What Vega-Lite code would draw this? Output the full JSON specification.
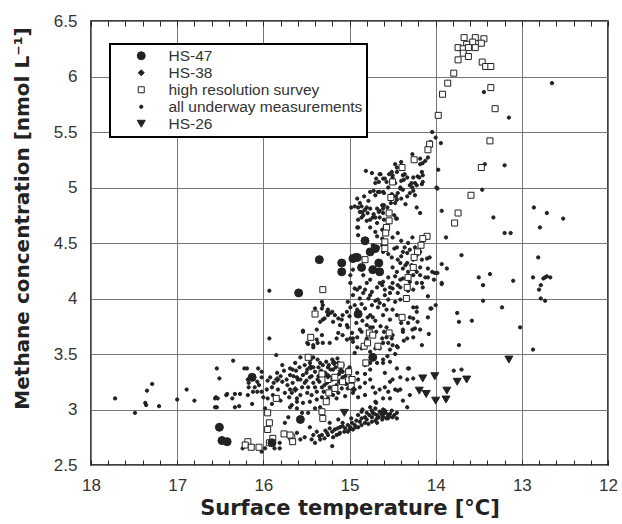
{
"$schema": "https://vega.github.io/schema/vega-lite/v6.json",
"width": 517, "height": 444,
"autosize": "none",
"padding": {"left": 91, "top": 21, "right": 14, "bottom": 59},
"config": {
  "view": {"stroke": "#000", "strokeWidth": 1.5},
  "axis": {"labelFont": "Liberation Sans", "labelFontSize": 17, "labelColor": "#333", "titleFont": "DejaVu Sans", "titleFontSize": 20, "titleFontWeight": "bold", "titleColor": "#222", "gridColor": "#777", "gridWidth": 1, "gridOpacity": 1, "domain": false},
  "legend": {"orient": "none", "legendX": 19, "legendY": 23, "strokeColor": "#000", "strokeWidth": 2, "fillColor": "#fff", "padding": 4, "labelFont": "Liberation Sans", "labelFontSize": 15.5, "labelColor": "#333", "labelLimit": 400, "symbolOffset": 19.5, "labelOffset": 19.5, "rowPadding": 0, "cornerRadius": 0, "symbolStrokeWidth": 1}
},
"data": {"values": [
{"t":17.72,"c":3.10,"s":"all underway measurements"},{"t":17.49,"c":2.97,"s":"all underway measurements"},{"t":17.37,"c":3.06,"s":"all underway measurements"},{"t":17.36,"c":3.04,"s":"all underway measurements"},{"t":17.35,"c":3.17,"s":"all underway measurements"},{"t":17.29,"c":3.23,"s":"all underway measurements"},{"t":17.21,"c":3.03,"s":"all underway measurements"},{"t":17.00,"c":3.09,"s":"all underway measurements"},{"t":16.89,"c":3.18,"s":"all underway measurements"},{"t":16.80,"c":3.08,"s":"all underway measurements"},{"t":16.56,"c":3.10,"s":"all underway measurements"},{"t":16.53,"c":3.10,"s":"all underway measurements"},{"t":16.56,"c":3.02,"s":"all underway measurements"},{"t":16.54,"c":3.37,"s":"all underway measurements"},{"t":16.51,"c":3.28,"s":"all underway measurements"},{"t":16.42,"c":3.14,"s":"all underway measurements"},{"t":16.36,"c":3.10,"s":"all underway measurements"},{"t":16.35,"c":3.44,"s":"all underway measurements"},{"t":16.33,"c":3.14,"s":"all underway measurements"},{"t":16.33,"c":3.02,"s":"all underway measurements"},{"t":16.28,"c":3.03,"s":"all underway measurements"},{"t":16.22,"c":3.37,"s":"all underway measurements"},{"t":16.19,"c":3.37,"s":"all underway measurements"},{"t":16.17,"c":3.24,"s":"all underway measurements"},{"t":16.13,"c":3.05,"s":"all underway measurements"},{"t":15.93,"c":3.64,"s":"all underway measurements"},
{"t":15.93,"c":4.07,"s":"all underway measurements"},{"t":15.85,"c":3.49,"s":"all underway measurements"},{"t":16.06,"c":3.37,"s":"all underway measurements"},{"t":16.02,"c":3.34,"s":"all underway measurements"},{"t":15.78,"c":3.40,"s":"all underway measurements"},{"t":15.69,"c":3.37,"s":"all underway measurements"},{"t":15.62,"c":3.35,"s":"all underway measurements"},{"t":15.84,"c":3.33,"s":"all underway measurements"},{"t":15.92,"c":3.29,"s":"all underway measurements"},{"t":15.78,"c":3.25,"s":"all underway measurements"},{"t":15.73,"c":3.27,"s":"all underway measurements"},{"t":15.66,"c":3.24,"s":"all underway measurements"},{"t":15.60,"c":3.27,"s":"all underway measurements"},{"t":15.90,"c":3.20,"s":"all underway measurements"},{"t":15.96,"c":3.18,"s":"all underway measurements"},{"t":16.02,"c":3.16,"s":"all underway measurements"},{"t":16.07,"c":3.16,"s":"all underway measurements"},{"t":16.00,"c":3.11,"s":"all underway measurements"},{"t":15.95,"c":3.10,"s":"all underway measurements"},{"t":15.89,"c":3.13,"s":"all underway measurements"},{"t":15.83,"c":3.18,"s":"all underway measurements"},{"t":15.75,"c":3.15,"s":"all underway measurements"},{"t":15.69,"c":3.18,"s":"all underway measurements"},{"t":15.69,"c":3.02,"s":"all underway measurements"},{"t":15.61,"c":3.10,"s":"all underway measurements"},{"t":16.18,"c":3.27,"s":"all underway measurements"},{"t":16.17,"c":3.20,"s":"all underway measurements"},{"t":16.12,"c":3.16,"s":"all underway measurements"},{"t":16.18,"c":3.13,"s":"all underway measurements"},{"t":16.02,"c":3.29,"s":"all underway measurements"},{"t":16.07,"c":3.25,"s":"all underway measurements"},{"t":16.10,"c":3.20,"s":"all underway measurements"},{"t":16.27,"c":3.14,"s":"all underway measurements"},{"t":16.43,"c":3.13,"s":"all underway measurements"},{"t":16.55,"c":3.11,"s":"all underway measurements"},{"t":16.54,"c":3.02,"s":"all underway measurements"},{"t":15.98,"c":3.01,"s":"all underway measurements"},{"t":15.71,"c":2.93,"s":"all underway measurements"},{"t":15.75,"c":2.88,"s":"all underway measurements"},{"t":15.81,"c":2.70,"s":"all underway measurements"},{"t":15.81,"c":2.65,"s":"all underway measurements"},{"t":15.87,"c":2.65,"s":"all underway measurements"},{"t":16.24,"c":2.65,"s":"all underway measurements"},{"t":15.98,"c":2.65,"s":"all underway measurements"},{"t":16.02,"c":2.62,"s":"all underway measurements"},
{"t":15.54,"c":3.71,"s":"all underway measurements"},{"t":15.31,"c":3.94,"s":"all underway measurements"},{"t":15.25,"c":3.90,"s":"all underway measurements"},{"t":15.17,"c":3.85,"s":"all underway measurements"},{"t":15.09,"c":3.81,"s":"all underway measurements"},{"t":15.49,"c":3.60,"s":"all underway measurements"},{"t":15.42,"c":3.56,"s":"all underway measurements"},{"t":15.38,"c":3.63,"s":"all underway measurements"},{"t":15.32,"c":3.67,"s":"all underway measurements"},{"t":15.13,"c":3.69,"s":"all underway measurements"},{"t":15.03,"c":3.76,"s":"all underway measurements"},{"t":14.96,"c":3.64,"s":"all underway measurements"},{"t":14.88,"c":3.72,"s":"all underway measurements"},{"t":14.76,"c":3.85,"s":"all underway measurements"},{"t":14.67,"c":3.92,"s":"all underway measurements"},{"t":14.61,"c":3.85,"s":"all underway measurements"},{"t":14.73,"c":3.74,"s":"all underway measurements"},{"t":14.91,"c":3.87,"s":"all underway measurements"},{"t":14.99,"c":3.92,"s":"all underway measurements"},{"t":15.32,"c":3.97,"s":"all underway measurements"},{"t":15.22,"c":3.87,"s":"all underway measurements"},{"t":15.39,"c":3.87,"s":"all underway measurements"},{"t":15.29,"c":3.82,"s":"all underway measurements"},
{"t":14.99,"c":4.14,"s":"all underway measurements"},{"t":14.94,"c":4.09,"s":"all underway measurements"},{"t":14.88,"c":4.10,"s":"all underway measurements"},{"t":14.96,"c":4.03,"s":"all underway measurements"},{"t":15.02,"c":3.97,"s":"all underway measurements"},{"t":14.88,"c":4.00,"s":"all underway measurements"},{"t":14.84,"c":4.05,"s":"all underway measurements"},{"t":14.74,"c":4.06,"s":"all underway measurements"},{"t":14.68,"c":4.10,"s":"all underway measurements"},{"t":14.62,"c":4.12,"s":"all underway measurements"},{"t":14.59,"c":4.08,"s":"all underway measurements"},{"t":14.53,"c":4.05,"s":"all underway measurements"},{"t":14.55,"c":3.99,"s":"all underway measurements"},{"t":14.57,"c":3.90,"s":"all underway measurements"},{"t":14.50,"c":4.09,"s":"all underway measurements"},{"t":14.44,"c":4.12,"s":"all underway measurements"},{"t":14.44,"c":4.05,"s":"all underway measurements"},{"t":14.41,"c":3.99,"s":"all underway measurements"},{"t":14.32,"c":4.07,"s":"all underway measurements"},{"t":14.26,"c":3.92,"s":"all underway measurements"},{"t":14.22,"c":3.88,"s":"all underway measurements"},{"t":14.30,"c":3.83,"s":"all underway measurements"},{"t":14.21,"c":3.79,"s":"all underway measurements"},{"t":14.24,"c":3.73,"s":"all underway measurements"},{"t":14.18,"c":3.72,"s":"all underway measurements"},{"t":14.27,"c":3.72,"s":"all underway measurements"},{"t":14.38,"c":3.70,"s":"all underway measurements"},{"t":14.33,"c":3.64,"s":"all underway measurements"},{"t":14.44,"c":3.56,"s":"all underway measurements"},{"t":14.50,"c":3.58,"s":"all underway measurements"},{"t":14.53,"c":3.54,"s":"all underway measurements"},{"t":14.61,"c":3.60,"s":"all underway measurements"},{"t":14.70,"c":3.55,"s":"all underway measurements"},{"t":14.76,"c":3.52,"s":"all underway measurements"},{"t":14.86,"c":3.55,"s":"all underway measurements"},{"t":14.94,"c":3.51,"s":"all underway measurements"},{"t":14.82,"c":3.40,"s":"all underway measurements"},{"t":14.76,"c":3.36,"s":"all underway measurements"},{"t":14.68,"c":3.42,"s":"all underway measurements"},{"t":14.61,"c":3.42,"s":"all underway measurements"},{"t":14.53,"c":3.43,"s":"all underway measurements"},{"t":14.45,"c":3.37,"s":"all underway measurements"},{"t":14.32,"c":3.37,"s":"all underway measurements"},{"t":14.41,"c":3.18,"s":"all underway measurements"},{"t":14.47,"c":3.18,"s":"all underway measurements"},{"t":14.53,"c":3.10,"s":"all underway measurements"},{"t":14.61,"c":3.10,"s":"all underway measurements"},{"t":14.69,"c":3.06,"s":"all underway measurements"},{"t":14.76,"c":3.02,"s":"all underway measurements"},{"t":14.82,"c":3.13,"s":"all underway measurements"},{"t":14.90,"c":3.11,"s":"all underway measurements"},{"t":14.96,"c":3.15,"s":"all underway measurements"},{"t":15.02,"c":3.19,"s":"all underway measurements"},{"t":14.33,"c":3.02,"s":"all underway measurements"},{"t":14.30,"c":3.13,"s":"all underway measurements"},{"t":14.51,"c":2.99,"s":"all underway measurements"},{"t":14.62,"c":2.97,"s":"all underway measurements"},{"t":14.68,"c":2.95,"s":"all underway measurements"},{"t":14.74,"c":2.93,"s":"all underway measurements"},{"t":14.80,"c":2.91,"s":"all underway measurements"},{"t":14.88,"c":2.89,"s":"all underway measurements"},{"t":14.94,"c":2.86,"s":"all underway measurements"},{"t":14.99,"c":2.84,"s":"all underway measurements"},{"t":15.05,"c":2.83,"s":"all underway measurements"},{"t":15.11,"c":2.84,"s":"all underway measurements"},{"t":15.17,"c":2.82,"s":"all underway measurements"},{"t":15.23,"c":2.83,"s":"all underway measurements"},{"t":15.26,"c":2.79,"s":"all underway measurements"},{"t":15.32,"c":2.77,"s":"all underway measurements"},{"t":15.38,"c":2.80,"s":"all underway measurements"},{"t":15.42,"c":2.77,"s":"all underway measurements"},{"t":15.44,"c":2.73,"s":"all underway measurements"},{"t":15.23,"c":2.88,"s":"all underway measurements"},{"t":15.13,"c":2.91,"s":"all underway measurements"},{"t":15.08,"c":2.88,"s":"all underway measurements"},{"t":14.68,"c":2.92,"s":"all underway measurements"},{"t":14.61,"c":2.93,"s":"all underway measurements"},{"t":14.55,"c":2.95,"s":"all underway measurements"},{"t":14.50,"c":2.93,"s":"all underway measurements"},{"t":14.45,"c":2.97,"s":"all underway measurements"},{"t":14.73,"c":2.97,"s":"all underway measurements"},{"t":15.20,"c":2.67,"s":"all underway measurements"},{"t":15.19,"c":2.75,"s":"all underway measurements"},{"t":15.46,"c":2.84,"s":"all underway measurements"},{"t":15.52,"c":2.75,"s":"all underway measurements"},{"t":15.57,"c":2.73,"s":"all underway measurements"},{"t":15.61,"c":2.79,"s":"all underway measurements"},
{"t":15.32,"c":3.91,"s":"all underway measurements"},{"t":15.26,"c":3.88,"s":"all underway measurements"},{"t":15.20,"c":3.88,"s":"all underway measurements"},{"t":15.25,"c":3.85,"s":"all underway measurements"},{"t":15.31,"c":3.81,"s":"all underway measurements"},{"t":15.34,"c":3.79,"s":"all underway measurements"},{"t":15.19,"c":3.79,"s":"all underway measurements"},{"t":15.13,"c":3.82,"s":"all underway measurements"},{"t":15.08,"c":3.85,"s":"all underway measurements"},{"t":15.03,"c":3.88,"s":"all underway measurements"},{"t":15.11,"c":3.76,"s":"all underway measurements"},{"t":15.02,"c":3.74,"s":"all underway measurements"},{"t":15.08,"c":3.67,"s":"all underway measurements"},{"t":14.99,"c":3.64,"s":"all underway measurements"},{"t":15.03,"c":3.63,"s":"all underway measurements"},{"t":14.96,"c":3.61,"s":"all underway measurements"},{"t":15.23,"c":3.60,"s":"all underway measurements"},{"t":15.31,"c":3.60,"s":"all underway measurements"},{"t":15.37,"c":3.60,"s":"all underway measurements"},{"t":15.42,"c":3.58,"s":"all underway measurements"},{"t":15.48,"c":3.59,"s":"all underway measurements"},{"t":15.54,"c":3.70,"s":"all underway measurements"},{"t":15.38,"c":3.72,"s":"all underway measurements"},{"t":15.15,"c":3.64,"s":"all underway measurements"},{"t":14.91,"c":3.65,"s":"all underway measurements"},{"t":14.86,"c":3.70,"s":"all underway measurements"},{"t":14.76,"c":3.74,"s":"all underway measurements"},{"t":14.69,"c":3.70,"s":"all underway measurements"},{"t":14.62,"c":3.64,"s":"all underway measurements"},{"t":14.57,"c":3.74,"s":"all underway measurements"},{"t":14.50,"c":3.67,"s":"all underway measurements"},{"t":14.38,"c":3.72,"s":"all underway measurements"},{"t":14.32,"c":3.78,"s":"all underway measurements"},{"t":14.91,"c":3.90,"s":"all underway measurements"},{"t":14.82,"c":3.91,"s":"all underway measurements"},{"t":14.74,"c":3.94,"s":"all underway measurements"},{"t":14.65,"c":3.96,"s":"all underway measurements"},{"t":14.73,"c":3.83,"s":"all underway measurements"},{"t":14.53,"c":3.81,"s":"all underway measurements"},{"t":14.79,"c":3.83,"s":"all underway measurements"},{"t":15.40,"c":3.91,"s":"all underway measurements"},
{"t":15.66,"c":3.36,"s":"all underway measurements"},{"t":15.61,"c":3.29,"s":"all underway measurements"},{"t":15.57,"c":3.27,"s":"all underway measurements"},{"t":15.54,"c":3.31,"s":"all underway measurements"},{"t":15.49,"c":3.36,"s":"all underway measurements"},{"t":15.52,"c":3.40,"s":"all underway measurements"},{"t":15.46,"c":3.42,"s":"all underway measurements"},{"t":15.42,"c":3.38,"s":"all underway measurements"},{"t":15.40,"c":3.34,"s":"all underway measurements"},{"t":15.46,"c":3.29,"s":"all underway measurements"},{"t":15.52,"c":3.24,"s":"all underway measurements"},{"t":15.55,"c":3.20,"s":"all underway measurements"},{"t":15.48,"c":3.20,"s":"all underway measurements"},{"t":15.42,"c":3.24,"s":"all underway measurements"},{"t":15.37,"c":3.27,"s":"all underway measurements"},{"t":15.32,"c":3.20,"s":"all underway measurements"},{"t":15.38,"c":3.16,"s":"all underway measurements"},{"t":15.44,"c":3.13,"s":"all underway measurements"},{"t":15.49,"c":3.15,"s":"all underway measurements"},{"t":15.57,"c":3.13,"s":"all underway measurements"},{"t":15.67,"c":3.15,"s":"all underway measurements"},{"t":15.61,"c":3.07,"s":"all underway measurements"},{"t":15.54,"c":3.06,"s":"all underway measurements"},{"t":15.46,"c":3.07,"s":"all underway measurements"},{"t":15.38,"c":3.09,"s":"all underway measurements"},{"t":15.32,"c":3.11,"s":"all underway measurements"},{"t":15.25,"c":3.10,"s":"all underway measurements"},{"t":15.19,"c":3.13,"s":"all underway measurements"},{"t":15.13,"c":3.15,"s":"all underway measurements"},{"t":15.09,"c":3.19,"s":"all underway measurements"},{"t":15.15,"c":3.22,"s":"all underway measurements"},{"t":15.23,"c":3.20,"s":"all underway measurements"},{"t":15.26,"c":3.24,"s":"all underway measurements"},{"t":15.19,"c":3.36,"s":"all underway measurements"},{"t":15.25,"c":3.38,"s":"all underway measurements"},{"t":15.31,"c":3.40,"s":"all underway measurements"},{"t":15.37,"c":3.45,"s":"all underway measurements"},{"t":15.42,"c":3.47,"s":"all underway measurements"},{"t":15.57,"c":3.47,"s":"all underway measurements"},{"t":15.63,"c":3.42,"s":"all underway measurements"},{"t":15.69,"c":3.31,"s":"all underway measurements"},{"t":15.61,"c":3.01,"s":"all underway measurements"},{"t":15.55,"c":2.97,"s":"all underway measurements"},{"t":15.48,"c":2.97,"s":"all underway measurements"},{"t":15.40,"c":3.01,"s":"all underway measurements"},{"t":15.34,"c":3.02,"s":"all underway measurements"},{"t":15.67,"c":3.04,"s":"all underway measurements"},{"t":15.08,"c":3.29,"s":"all underway measurements"},{"t":14.99,"c":3.29,"s":"all underway measurements"},{"t":15.02,"c":3.36,"s":"all underway measurements"},{"t":15.08,"c":3.40,"s":"all underway measurements"},{"t":15.13,"c":3.42,"s":"all underway measurements"},{"t":15.20,"c":3.45,"s":"all underway measurements"},{"t":14.91,"c":3.33,"s":"all underway measurements"},{"t":14.90,"c":3.27,"s":"all underway measurements"},{"t":14.88,"c":3.20,"s":"all underway measurements"},{"t":14.82,"c":3.24,"s":"all underway measurements"},{"t":14.76,"c":3.27,"s":"all underway measurements"},{"t":14.73,"c":3.20,"s":"all underway measurements"},{"t":14.70,"c":3.15,"s":"all underway measurements"},{"t":14.65,"c":3.18,"s":"all underway measurements"},{"t":14.59,"c":3.20,"s":"all underway measurements"},{"t":14.53,"c":3.25,"s":"all underway measurements"},{"t":14.41,"c":3.29,"s":"all underway measurements"},{"t":14.33,"c":3.27,"s":"all underway measurements"},{"t":14.26,"c":3.28,"s":"all underway measurements"},
{"t":14.86,"c":2.98,"s":"all underway measurements"},{"t":14.80,"c":2.97,"s":"all underway measurements"},{"t":14.70,"c":3.01,"s":"all underway measurements"},{"t":14.65,"c":2.98,"s":"all underway measurements"},{"t":14.59,"c":2.99,"s":"all underway measurements"},{"t":14.62,"c":2.91,"s":"all underway measurements"},{"t":14.68,"c":2.88,"s":"all underway measurements"},{"t":14.74,"c":2.89,"s":"all underway measurements"},{"t":14.82,"c":2.88,"s":"all underway measurements"},{"t":14.90,"c":2.84,"s":"all underway measurements"},{"t":14.96,"c":2.82,"s":"all underway measurements"},{"t":15.02,"c":2.80,"s":"all underway measurements"},{"t":15.11,"c":2.79,"s":"all underway measurements"},{"t":15.15,"c":2.77,"s":"all underway measurements"},{"t":15.29,"c":2.74,"s":"all underway measurements"},{"t":15.34,"c":2.73,"s":"all underway measurements"},{"t":15.40,"c":2.70,"s":"all underway measurements"},
{"t":15.50,"c":3.33,"s":"all underway measurements"},{"t":15.44,"c":3.30,"s":"all underway measurements"},{"t":15.36,"c":3.38,"s":"all underway measurements"},{"t":15.33,"c":3.35,"s":"all underway measurements"},{"t":15.28,"c":3.33,"s":"all underway measurements"},{"t":15.22,"c":3.36,"s":"all underway measurements"},{"t":15.16,"c":3.38,"s":"all underway measurements"},{"t":15.12,"c":3.32,"s":"all underway measurements"},{"t":15.05,"c":3.30,"s":"all underway measurements"},{"t":15.00,"c":3.38,"s":"all underway measurements"},{"t":15.35,"c":3.25,"s":"all underway measurements"},{"t":15.29,"c":3.22,"s":"all underway measurements"},{"t":15.20,"c":3.27,"s":"all underway measurements"},{"t":15.12,"c":3.25,"s":"all underway measurements"},{"t":15.04,"c":3.23,"s":"all underway measurements"},{"t":15.40,"c":3.20,"s":"all underway measurements"},{"t":15.30,"c":3.16,"s":"all underway measurements"},{"t":15.22,"c":3.14,"s":"all underway measurements"},{"t":15.15,"c":3.10,"s":"all underway measurements"},{"t":15.05,"c":3.12,"s":"all underway measurements"},{"t":15.50,"c":3.26,"s":"all underway measurements"},{"t":15.58,"c":3.38,"s":"all underway measurements"},{"t":15.27,"c":3.43,"s":"all underway measurements"},{"t":15.14,"c":3.46,"s":"all underway measurements"},{"t":15.45,"c":3.45,"s":"all underway measurements"},{"t":15.36,"c":3.30,"s":"all underway measurements"},{"t":15.24,"c":3.40,"s":"all underway measurements"},{"t":15.08,"c":3.34,"s":"all underway measurements"},{"t":14.98,"c":3.24,"s":"all underway measurements"},{"t":15.34,"c":3.42,"s":"all underway measurements"},
{"t":15.20,"c":2.80,"s":"all underway measurements"},{"t":15.14,"c":2.83,"s":"all underway measurements"},{"t":15.08,"c":2.85,"s":"all underway measurements"},{"t":15.02,"c":2.86,"s":"all underway measurements"},{"t":14.97,"c":2.88,"s":"all underway measurements"},{"t":14.92,"c":2.90,"s":"all underway measurements"},{"t":14.86,"c":2.92,"s":"all underway measurements"},{"t":14.82,"c":2.93,"s":"all underway measurements"},{"t":14.77,"c":2.95,"s":"all underway measurements"},{"t":14.71,"c":2.96,"s":"all underway measurements"},{"t":14.66,"c":2.93,"s":"all underway measurements"},{"t":14.58,"c":2.97,"s":"all underway measurements"},{"t":14.53,"c":2.96,"s":"all underway measurements"},{"t":14.48,"c":2.95,"s":"all underway measurements"},{"t":14.45,"c":2.92,"s":"all underway measurements"},{"t":14.70,"c":2.90,"s":"all underway measurements"},{"t":14.78,"c":2.87,"s":"all underway measurements"},{"t":14.86,"c":2.86,"s":"all underway measurements"},{"t":14.93,"c":2.84,"s":"all underway measurements"},{"t":15.00,"c":2.82,"s":"all underway measurements"},{"t":15.06,"c":2.80,"s":"all underway measurements"},{"t":15.12,"c":2.78,"s":"all underway measurements"},{"t":15.25,"c":2.77,"s":"all underway measurements"},{"t":15.35,"c":2.76,"s":"all underway measurements"},{"t":15.28,"c":2.81,"s":"all underway measurements"},{"t":14.63,"c":2.96,"s":"all underway measurements"},{"t":14.57,"c":2.92,"s":"all underway measurements"},{"t":14.74,"c":2.99,"s":"all underway measurements"},{"t":14.90,"c":2.95,"s":"all underway measurements"},{"t":14.98,"c":2.92,"s":"all underway measurements"},
{"t":14.85,"c":4.78,"s":"all underway measurements"},{"t":14.80,"c":4.70,"s":"all underway measurements"},{"t":14.72,"c":4.76,"s":"all underway measurements"},{"t":14.68,"c":4.68,"s":"all underway measurements"},{"t":14.56,"c":4.82,"s":"all underway measurements"},{"t":14.52,"c":4.86,"s":"all underway measurements"},{"t":14.40,"c":4.90,"s":"all underway measurements"},{"t":14.35,"c":4.85,"s":"all underway measurements"},{"t":14.30,"c":4.95,"s":"all underway measurements"},{"t":14.24,"c":4.93,"s":"all underway measurements"},{"t":14.70,"c":4.93,"s":"all underway measurements"},{"t":14.78,"c":4.88,"s":"all underway measurements"},{"t":14.83,"c":4.92,"s":"all underway measurements"},{"t":14.55,"c":5.00,"s":"all underway measurements"},{"t":14.47,"c":5.04,"s":"all underway measurements"},{"t":14.40,"c":5.06,"s":"all underway measurements"},{"t":14.62,"c":4.62,"s":"all underway measurements"},{"t":14.70,"c":4.60,"s":"all underway measurements"},{"t":14.50,"c":4.55,"s":"all underway measurements"},{"t":14.40,"c":4.52,"s":"all underway measurements"},{"t":14.32,"c":4.50,"s":"all underway measurements"},{"t":14.27,"c":4.55,"s":"all underway measurements"},{"t":14.55,"c":4.40,"s":"all underway measurements"},{"t":14.48,"c":4.45,"s":"all underway measurements"},{"t":14.40,"c":4.38,"s":"all underway measurements"},{"t":14.35,"c":4.30,"s":"all underway measurements"},{"t":14.28,"c":4.30,"s":"all underway measurements"},{"t":14.47,"c":4.20,"s":"all underway measurements"},{"t":14.38,"c":4.18,"s":"all underway measurements"},{"t":14.30,"c":4.15,"s":"all underway measurements"},
{"t":14.85,"c":3.80,"s":"all underway measurements"},{"t":14.80,"c":3.76,"s":"all underway measurements"},{"t":14.70,"c":3.80,"s":"all underway measurements"},{"t":14.64,"c":3.75,"s":"all underway measurements"},{"t":14.60,"c":3.70,"s":"all underway measurements"},{"t":14.55,"c":3.60,"s":"all underway measurements"},{"t":14.65,"c":3.55,"s":"all underway measurements"},{"t":14.80,"c":3.64,"s":"all underway measurements"},{"t":14.92,"c":3.78,"s":"all underway measurements"},{"t":15.00,"c":3.84,"s":"all underway measurements"},{"t":14.86,"c":3.95,"s":"all underway measurements"},{"t":14.78,"c":4.00,"s":"all underway measurements"},{"t":14.70,"c":3.98,"s":"all underway measurements"},{"t":14.60,"c":3.94,"s":"all underway measurements"},{"t":14.47,"c":3.97,"s":"all underway measurements"},{"t":14.45,"c":3.85,"s":"all underway measurements"},{"t":14.40,"c":3.78,"s":"all underway measurements"},{"t":14.37,"c":3.62,"s":"all underway measurements"},{"t":14.47,"c":3.50,"s":"all underway measurements"},{"t":14.56,"c":3.48,"s":"all underway measurements"},
{"t":15.88,"c":3.24,"s":"all underway measurements"},{"t":15.80,"c":3.30,"s":"all underway measurements"},{"t":15.72,"c":3.22,"s":"all underway measurements"},{"t":15.65,"c":3.30,"s":"all underway measurements"},{"t":15.95,"c":3.26,"s":"all underway measurements"},{"t":16.05,"c":3.22,"s":"all underway measurements"},{"t":15.76,"c":3.35,"s":"all underway measurements"},{"t":15.70,"c":3.11,"s":"all underway measurements"},{"t":15.80,"c":3.08,"s":"all underway measurements"},{"t":15.90,"c":3.05,"s":"all underway measurements"},
{"t":14.27,"c":5.30,"s":"all underway measurements"},{"t":14.18,"c":5.21,"s":"all underway measurements"},{"t":14.10,"c":5.34,"s":"all underway measurements"},{"t":14.09,"c":5.27,"s":"all underway measurements"},{"t":14.40,"c":5.23,"s":"all underway measurements"},{"t":14.39,"c":5.18,"s":"all underway measurements"},{"t":14.45,"c":5.14,"s":"all underway measurements"},{"t":14.51,"c":5.14,"s":"all underway measurements"},{"t":14.54,"c":5.12,"s":"all underway measurements"},{"t":14.81,"c":5.15,"s":"all underway measurements"},{"t":14.74,"c":5.13,"s":"all underway measurements"},{"t":14.64,"c":5.12,"s":"all underway measurements"},{"t":14.69,"c":5.08,"s":"all underway measurements"},{"t":14.66,"c":5.05,"s":"all underway measurements"},{"t":14.70,"c":5.04,"s":"all underway measurements"},{"t":14.61,"c":5.08,"s":"all underway measurements"},{"t":14.57,"c":5.05,"s":"all underway measurements"},{"t":14.50,"c":5.09,"s":"all underway measurements"},{"t":14.36,"c":5.12,"s":"all underway measurements"},{"t":14.33,"c":5.09,"s":"all underway measurements"},{"t":14.26,"c":5.09,"s":"all underway measurements"},{"t":14.21,"c":5.10,"s":"all underway measurements"},{"t":14.15,"c":5.11,"s":"all underway measurements"},{"t":14.15,"c":5.05,"s":"all underway measurements"},{"t":14.22,"c":5.02,"s":"all underway measurements"},{"t":14.27,"c":5.00,"s":"all underway measurements"},{"t":14.26,"c":4.97,"s":"all underway measurements"},{"t":14.41,"c":4.99,"s":"all underway measurements"},{"t":14.38,"c":4.98,"s":"all underway measurements"},{"t":14.72,"c":4.97,"s":"all underway measurements"},{"t":14.76,"c":4.96,"s":"all underway measurements"},{"t":14.67,"c":4.96,"s":"all underway measurements"},{"t":14.61,"c":4.96,"s":"all underway measurements"},{"t":14.51,"c":4.94,"s":"all underway measurements"},{"t":14.46,"c":4.92,"s":"all underway measurements"},{"t":14.45,"c":4.89,"s":"all underway measurements"},{"t":14.33,"c":4.92,"s":"all underway measurements"},{"t":14.18,"c":4.77,"s":"all underway measurements"},{"t":14.22,"c":4.82,"s":"all underway measurements"},{"t":14.91,"c":4.90,"s":"all underway measurements"},{"t":14.88,"c":4.86,"s":"all underway measurements"},{"t":14.98,"c":4.82,"s":"all underway measurements"},{"t":14.90,"c":4.82,"s":"all underway measurements"},{"t":14.86,"c":4.83,"s":"all underway measurements"},{"t":14.82,"c":4.80,"s":"all underway measurements"},{"t":14.80,"c":4.82,"s":"all underway measurements"},{"t":14.76,"c":4.81,"s":"all underway measurements"},{"t":14.84,"c":4.75,"s":"all underway measurements"},{"t":14.86,"c":4.73,"s":"all underway measurements"},{"t":14.90,"c":4.71,"s":"all underway measurements"},{"t":14.90,"c":4.64,"s":"all underway measurements"},{"t":14.76,"c":4.71,"s":"all underway measurements"},{"t":14.73,"c":4.73,"s":"all underway measurements"},{"t":14.68,"c":4.81,"s":"all underway measurements"},{"t":14.66,"c":4.78,"s":"all underway measurements"},{"t":14.62,"c":4.84,"s":"all underway measurements"},{"t":14.61,"c":4.81,"s":"all underway measurements"},{"t":14.65,"c":4.73,"s":"all underway measurements"},{"t":14.60,"c":4.71,"s":"all underway measurements"},{"t":14.59,"c":4.65,"s":"all underway measurements"},{"t":14.45,"c":4.72,"s":"all underway measurements"},{"t":14.48,"c":4.75,"s":"all underway measurements"},{"t":14.68,"c":4.56,"s":"all underway measurements"},{"t":14.62,"c":4.54,"s":"all underway measurements"},{"t":14.44,"c":4.59,"s":"all underway measurements"},{"t":14.73,"c":4.48,"s":"all underway measurements"},{"t":14.62,"c":4.48,"s":"all underway measurements"},{"t":14.67,"c":4.46,"s":"all underway measurements"},{"t":14.45,"c":4.46,"s":"all underway measurements"},{"t":14.36,"c":4.46,"s":"all underway measurements"},{"t":14.33,"c":4.41,"s":"all underway measurements"},{"t":14.30,"c":4.44,"s":"all underway measurements"},{"t":14.24,"c":4.46,"s":"all underway measurements"},{"t":14.18,"c":4.42,"s":"all underway measurements"},{"t":14.22,"c":4.39,"s":"all underway measurements"},{"t":14.26,"c":4.35,"s":"all underway measurements"},{"t":14.33,"c":4.32,"s":"all underway measurements"},{"t":14.41,"c":4.32,"s":"all underway measurements"},{"t":14.50,"c":4.28,"s":"all underway measurements"},{"t":14.45,"c":4.24,"s":"all underway measurements"},{"t":14.38,"c":4.27,"s":"all underway measurements"},{"t":14.32,"c":4.24,"s":"all underway measurements"},{"t":14.26,"c":4.21,"s":"all underway measurements"},{"t":14.22,"c":4.24,"s":"all underway measurements"},{"t":14.18,"c":4.28,"s":"all underway measurements"},{"t":14.12,"c":4.19,"s":"all underway measurements"},{"t":14.09,"c":4.27,"s":"all underway measurements"},{"t":14.15,"c":4.10,"s":"all underway measurements"},{"t":14.22,"c":4.14,"s":"all underway measurements"},{"t":14.41,"c":4.17,"s":"all underway measurements"},{"t":14.50,"c":4.14,"s":"all underway measurements"},{"t":14.55,"c":4.19,"s":"all underway measurements"},{"t":14.61,"c":4.15,"s":"all underway measurements"},{"t":14.96,"c":4.26,"s":"all underway measurements"},{"t":14.99,"c":4.21,"s":"all underway measurements"},{"t":14.84,"c":4.21,"s":"all underway measurements"},{"t":14.76,"c":4.17,"s":"all underway measurements"},{"t":14.80,"c":4.14,"s":"all underway measurements"},{"t":14.65,"c":4.14,"s":"all underway measurements"},{"t":14.16,"c":4.35,"s":"all underway measurements"},{"t":14.94,"c":4.39,"s":"all underway measurements"},
{"t":14.94,"c":4.83,"s":"all underway measurements"},{"t":14.88,"c":4.78,"s":"all underway measurements"},{"t":14.79,"c":4.77,"s":"all underway measurements"},{"t":14.30,"c":5.02,"s":"all underway measurements"},{"t":14.24,"c":5.04,"s":"all underway measurements"},{"t":14.16,"c":5.03,"s":"all underway measurements"},{"t":14.70,"c":4.73,"s":"all underway measurements"},{"t":14.76,"c":4.64,"s":"all underway measurements"},{"t":14.91,"c":4.64,"s":"all underway measurements"},{"t":14.90,"c":4.57,"s":"all underway measurements"},{"t":14.61,"c":4.42,"s":"all underway measurements"},{"t":14.51,"c":4.37,"s":"all underway measurements"},{"t":14.44,"c":4.35,"s":"all underway measurements"},{"t":14.38,"c":4.42,"s":"all underway measurements"},{"t":14.10,"c":4.36,"s":"all underway measurements"},{"t":14.07,"c":4.37,"s":"all underway measurements"},{"t":14.04,"c":4.24,"s":"all underway measurements"},{"t":14.01,"c":4.23,"s":"all underway measurements"},{"t":14.09,"c":4.19,"s":"all underway measurements"},{"t":14.18,"c":4.21,"s":"all underway measurements"},{"t":14.16,"c":4.14,"s":"all underway measurements"},{"t":13.93,"c":4.14,"s":"all underway measurements"},{"t":14.26,"c":4.08,"s":"all underway measurements"},{"t":14.41,"c":4.10,"s":"all underway measurements"},{"t":14.53,"c":4.10,"s":"all underway measurements"},{"t":14.59,"c":4.03,"s":"all underway measurements"},{"t":14.67,"c":3.99,"s":"all underway measurements"},{"t":14.76,"c":4.03,"s":"all underway measurements"},{"t":14.82,"c":4.08,"s":"all underway measurements"},{"t":14.91,"c":4.08,"s":"all underway measurements"},{"t":14.94,"c":3.94,"s":"all underway measurements"},{"t":14.50,"c":3.90,"s":"all underway measurements"},{"t":14.22,"c":3.92,"s":"all underway measurements"},{"t":14.06,"c":3.91,"s":"all underway measurements"},{"t":14.09,"c":3.83,"s":"all underway measurements"},{"t":14.26,"c":3.82,"s":"all underway measurements"},{"t":14.16,"c":3.58,"s":"all underway measurements"},{"t":14.26,"c":3.65,"s":"all underway measurements"},{"t":14.51,"c":3.64,"s":"all underway measurements"},{"t":14.45,"c":3.57,"s":"all underway measurements"},{"t":14.57,"c":3.65,"s":"all underway measurements"},{"t":14.97,"c":3.69,"s":"all underway measurements"},{"t":14.91,"c":3.56,"s":"all underway measurements"},{"t":14.61,"c":3.45,"s":"all underway measurements"},{"t":14.76,"c":3.42,"s":"all underway measurements"},
{"t":13.46,"c":4.98,"s":"all underway measurements"},{"t":13.99,"c":5.00,"s":"all underway measurements"},{"t":13.93,"c":4.79,"s":"all underway measurements"},{"t":13.33,"c":4.73,"s":"all underway measurements"},{"t":13.20,"c":4.59,"s":"all underway measurements"},{"t":13.13,"c":4.59,"s":"all underway measurements"},{"t":13.88,"c":4.55,"s":"all underway measurements"},{"t":12.86,"c":4.82,"s":"all underway measurements"},{"t":12.71,"c":4.77,"s":"all underway measurements"},{"t":12.52,"c":4.72,"s":"all underway measurements"},{"t":12.79,"c":4.64,"s":"all underway measurements"},{"t":13.70,"c":4.39,"s":"all underway measurements"},{"t":13.50,"c":4.19,"s":"all underway measurements"},{"t":13.37,"c":4.22,"s":"all underway measurements"},{"t":13.45,"c":4.12,"s":"all underway measurements"},{"t":13.10,"c":4.16,"s":"all underway measurements"},{"t":12.81,"c":4.37,"s":"all underway measurements"},{"t":12.87,"c":4.19,"s":"all underway measurements"},{"t":12.75,"c":4.18,"s":"all underway measurements"},{"t":12.73,"c":4.19,"s":"all underway measurements"},{"t":12.67,"c":4.19,"s":"all underway measurements"},{"t":12.71,"c":4.20,"s":"all underway measurements"},{"t":12.78,"c":4.12,"s":"all underway measurements"},{"t":12.80,"c":4.08,"s":"all underway measurements"},{"t":12.78,"c":4.00,"s":"all underway measurements"},{"t":12.73,"c":3.98,"s":"all underway measurements"},{"t":13.45,"c":3.98,"s":"all underway measurements"},{"t":13.23,"c":3.92,"s":"all underway measurements"},{"t":13.02,"c":3.74,"s":"all underway measurements"},{"t":12.87,"c":3.54,"s":"all underway measurements"},{"t":13.75,"c":3.87,"s":"all underway measurements"},{"t":13.73,"c":3.79,"s":"all underway measurements"},{"t":13.58,"c":3.80,"s":"all underway measurements"},{"t":13.73,"c":3.58,"s":"all underway measurements"},{"t":13.79,"c":3.35,"s":"all underway measurements"},{"t":13.70,"c":3.36,"s":"all underway measurements"},{"t":14.08,"c":3.68,"s":"all underway measurements"},{"t":14.00,"c":3.94,"s":"all underway measurements"},{"t":14.05,"c":3.91,"s":"all underway measurements"},{"t":13.93,"c":4.31,"s":"all underway measurements"},{"t":13.87,"c":4.27,"s":"all underway measurements"},{"t":13.98,"c":4.23,"s":"all underway measurements"},{"t":13.93,"c":4.13,"s":"all underway measurements"},{"t":14.02,"c":4.17,"s":"all underway measurements"},{"t":14.09,"c":4.02,"s":"all underway measurements"},{"t":14.31,"c":3.37,"s":"all underway measurements"},{"t":14.50,"c":3.27,"s":"all underway measurements"},{"t":14.59,"c":3.33,"s":"all underway measurements"},{"t":14.82,"c":3.32,"s":"all underway measurements"},{"t":14.85,"c":3.00,"s":"all underway measurements"},{"t":14.44,"c":3.17,"s":"all underway measurements"},{"t":14.55,"c":3.16,"s":"all underway measurements"},{"t":14.38,"c":3.08,"s":"all underway measurements"},{"t":14.70,"c":3.07,"s":"all underway measurements"},{"t":14.61,"c":3.00,"s":"all underway measurements"},
{"t":12.65,"c":5.94,"s":"all underway measurements"},{"t":13.44,"c":5.86,"s":"all underway measurements"},{"t":13.15,"c":5.63,"s":"all underway measurements"},{"t":13.20,"c":5.20,"s":"all underway measurements"},{"t":13.43,"c":5.21,"s":"all underway measurements"},{"t":13.97,"c":5.16,"s":"all underway measurements"},{"t":13.94,"c":5.40,"s":"all underway measurements"},{"t":13.98,"c":4.99,"s":"all underway measurements"},{"t":14.04,"c":5.50,"s":"all underway measurements"},{"t":14.00,"c":5.45,"s":"all underway measurements"},{"t":14.10,"c":5.36,"s":"all underway measurements"},{"t":14.06,"c":5.41,"s":"all underway measurements"},{"t":14.18,"c":5.26,"s":"all underway measurements"},{"t":14.15,"c":5.22,"s":"all underway measurements"},{"t":14.12,"c":5.24,"s":"all underway measurements"},{"t":14.47,"c":5.21,"s":"all underway measurements"},{"t":14.45,"c":5.18,"s":"all underway measurements"},{"t":14.50,"c":5.11,"s":"all underway measurements"},{"t":14.59,"c":5.08,"s":"all underway measurements"},{"t":14.65,"c":5.12,"s":"all underway measurements"},{"t":14.38,"c":5.11,"s":"all underway measurements"},{"t":14.19,"c":5.09,"s":"all underway measurements"},{"t":14.16,"c":5.14,"s":"all underway measurements"},{"t":14.37,"c":5.07,"s":"all underway measurements"},{"t":14.28,"c":5.04,"s":"all underway measurements"},{"t":14.41,"c":5.00,"s":"all underway measurements"},{"t":14.65,"c":4.96,"s":"all underway measurements"},{"t":14.60,"c":4.95,"s":"all underway measurements"},{"t":14.50,"c":4.93,"s":"all underway measurements"},{"t":14.44,"c":4.95,"s":"all underway measurements"},{"t":14.47,"c":4.86,"s":"all underway measurements"},{"t":14.60,"c":4.84,"s":"all underway measurements"},{"t":14.65,"c":4.79,"s":"all underway measurements"},{"t":14.61,"c":4.77,"s":"all underway measurements"},{"t":14.46,"c":4.72,"s":"all underway measurements"},
{"t":13.67,"c":6.35,"s":"high resolution survey"},{"t":13.54,"c":6.35,"s":"high resolution survey"},{"t":13.44,"c":6.34,"s":"high resolution survey"},{"t":13.47,"c":6.30,"s":"high resolution survey"},{"t":13.57,"c":6.31,"s":"high resolution survey"},{"t":13.64,"c":6.29,"s":"high resolution survey"},{"t":13.74,"c":6.26,"s":"high resolution survey"},{"t":13.68,"c":6.25,"s":"high resolution survey"},{"t":13.62,"c":6.26,"s":"high resolution survey"},{"t":13.54,"c":6.26,"s":"high resolution survey"},{"t":13.68,"c":6.21,"s":"high resolution survey"},{"t":13.62,"c":6.18,"s":"high resolution survey"},{"t":13.74,"c":6.15,"s":"high resolution survey"},{"t":13.46,"c":6.13,"s":"high resolution survey"},{"t":13.42,"c":6.09,"s":"high resolution survey"},{"t":13.36,"c":6.09,"s":"high resolution survey"},{"t":13.79,"c":6.03,"s":"high resolution survey"},{"t":13.86,"c":5.94,"s":"high resolution survey"},{"t":13.92,"c":5.84,"s":"high resolution survey"},{"t":13.36,"c":5.90,"s":"high resolution survey"},{"t":13.31,"c":5.71,"s":"high resolution survey"},{"t":13.97,"c":5.65,"s":"high resolution survey"},
{"t":14.07,"c":5.39,"s":"high resolution survey"},{"t":14.09,"c":5.34,"s":"high resolution survey"},{"t":14.25,"c":5.25,"s":"high resolution survey"},{"t":14.39,"c":5.18,"s":"high resolution survey"},{"t":14.50,"c":5.05,"s":"high resolution survey"},{"t":14.52,"c":4.91,"s":"high resolution survey"},{"t":14.54,"c":4.77,"s":"high resolution survey"},{"t":14.54,"c":4.70,"s":"high resolution survey"},{"t":14.57,"c":4.64,"s":"high resolution survey"},{"t":14.58,"c":4.59,"s":"high resolution survey"},{"t":14.59,"c":4.51,"s":"high resolution survey"},{"t":14.59,"c":4.45,"s":"high resolution survey"},{"t":13.37,"c":5.42,"s":"high resolution survey"},{"t":13.47,"c":5.18,"s":"high resolution survey"},{"t":13.59,"c":4.93,"s":"high resolution survey"},{"t":13.74,"c":4.77,"s":"high resolution survey"},{"t":13.78,"c":4.68,"s":"high resolution survey"},{"t":14.10,"c":4.56,"s":"high resolution survey"},{"t":14.15,"c":4.54,"s":"high resolution survey"},{"t":14.17,"c":4.48,"s":"high resolution survey"},{"t":14.21,"c":4.42,"s":"high resolution survey"},{"t":14.25,"c":4.37,"s":"high resolution survey"},{"t":14.26,"c":4.28,"s":"high resolution survey"},{"t":14.32,"c":4.19,"s":"high resolution survey"},{"t":14.33,"c":4.10,"s":"high resolution survey"},{"t":14.34,"c":4.00,"s":"high resolution survey"},{"t":14.39,"c":3.83,"s":"high resolution survey"},{"t":14.82,"c":4.35,"s":"high resolution survey"},
{"t":15.31,"c":4.08,"s":"high resolution survey"},{"t":15.40,"c":3.86,"s":"high resolution survey"},{"t":15.45,"c":3.65,"s":"high resolution survey"},{"t":15.48,"c":3.47,"s":"high resolution survey"},{"t":14.77,"c":3.69,"s":"high resolution survey"},{"t":14.73,"c":3.67,"s":"high resolution survey"},{"t":14.54,"c":3.69,"s":"high resolution survey"},{"t":14.83,"c":3.57,"s":"high resolution survey"},{"t":14.79,"c":3.60,"s":"high resolution survey"},{"t":14.67,"c":3.57,"s":"high resolution survey"},{"t":14.81,"c":3.42,"s":"high resolution survey"},{"t":15.10,"c":3.40,"s":"high resolution survey"},{"t":15.01,"c":3.34,"s":"high resolution survey"},{"t":15.32,"c":3.32,"s":"high resolution survey"},{"t":15.25,"c":3.27,"s":"high resolution survey"},{"t":15.17,"c":3.29,"s":"high resolution survey"},{"t":14.97,"c":3.27,"s":"high resolution survey"},{"t":15.08,"c":3.25,"s":"high resolution survey"},{"t":14.98,"c":3.21,"s":"high resolution survey"},{"t":15.17,"c":3.19,"s":"high resolution survey"},{"t":15.24,"c":3.15,"s":"high resolution survey"},{"t":15.27,"c":3.07,"s":"high resolution survey"},{"t":15.32,"c":2.98,"s":"high resolution survey"},{"t":15.31,"c":2.92,"s":"high resolution survey"},{"t":15.67,"c":2.75,"s":"high resolution survey"},{"t":15.66,"c":2.71,"s":"high resolution survey"},{"t":15.85,"c":3.10,"s":"high resolution survey"},{"t":15.95,"c":2.97,"s":"high resolution survey"},{"t":15.93,"c":2.88,"s":"high resolution survey"},{"t":15.95,"c":2.82,"s":"high resolution survey"},{"t":15.76,"c":2.78,"s":"high resolution survey"},{"t":15.69,"c":2.77,"s":"high resolution survey"},{"t":15.89,"c":2.74,"s":"high resolution survey"},{"t":15.93,"c":2.70,"s":"high resolution survey"},{"t":16.18,"c":2.71,"s":"high resolution survey"},{"t":16.21,"c":2.68,"s":"high resolution survey"},{"t":16.05,"c":2.66,"s":"high resolution survey"},{"t":16.14,"c":2.66,"s":"high resolution survey"},
{"t":15.84,"c":3.27,"s":"HS-38"},{"t":15.63,"c":3.18,"s":"HS-38"},{"t":15.25,"c":3.30,"s":"HS-38"},{"t":15.10,"c":3.35,"s":"HS-38"},{"t":15.45,"c":3.38,"s":"HS-38"},{"t":14.95,"c":3.18,"s":"HS-38"},{"t":15.18,"c":3.42,"s":"HS-38"},{"t":14.55,"c":2.93,"s":"HS-38"},
{"t":15.35,"c":4.35,"s":"HS-47"},{"t":15.59,"c":4.05,"s":"HS-47"},{"t":15.09,"c":4.32,"s":"HS-47"},{"t":15.09,"c":4.24,"s":"HS-47"},{"t":14.96,"c":4.36,"s":"HS-47"},{"t":14.91,"c":4.37,"s":"HS-47"},{"t":14.82,"c":4.52,"s":"HS-47"},{"t":14.76,"c":4.42,"s":"HS-47"},{"t":14.70,"c":4.45,"s":"HS-47"},{"t":14.86,"c":4.28,"s":"HS-47"},{"t":14.73,"c":4.26,"s":"HS-47"},{"t":14.66,"c":4.32,"s":"HS-47"},{"t":14.65,"c":4.24,"s":"HS-47"},{"t":14.90,"c":3.86,"s":"HS-47"},{"t":14.73,"c":3.47,"s":"HS-47"},{"t":15.57,"c":2.91,"s":"HS-47"},{"t":16.13,"c":3.29,"s":"HS-47"},{"t":16.51,"c":2.84,"s":"HS-47"},{"t":16.48,"c":2.72,"s":"HS-47"},{"t":16.42,"c":2.71,"s":"HS-47"},{"t":15.90,"c":2.70,"s":"HS-47"},
{"t":13.15,"c":3.45,"s":"HS-26"},{"t":14.01,"c":3.30,"s":"HS-26"},{"t":14.15,"c":3.28,"s":"HS-26"},{"t":13.75,"c":3.25,"s":"HS-26"},{"t":13.64,"c":3.27,"s":"HS-26"},{"t":14.19,"c":3.17,"s":"HS-26"},{"t":14.11,"c":3.14,"s":"HS-26"},{"t":13.87,"c":3.17,"s":"HS-26"},{"t":13.88,"c":3.09,"s":"HS-26"},{"t":14.00,"c":3.08,"s":"HS-26"},{"t":15.06,"c":2.97,"s":"HS-26"},{"t":14.61,"c":2.96,"s":"HS-26"}
]},
"layer": [
  {
    "mark": {"type": "point", "strokeWidth": 1, "opacity": 1},
    "encoding": {
      "x": {"field": "t", "type": "quantitative",
        "scale": {"domain": [12, 18], "reverse": true, "nice": false, "zero": false},
        "axis": {"orient": "bottom", "title": "Surface temperature [°C]", "titleFontSize": 21, "values": [18, 17, 16, 15, 14, 13, 12], "format": "d", "grid": true, "ticks": false, "labelPadding": 12, "labelFlush": false, "titlePadding": 4}},
      "y": {"field": "c", "type": "quantitative",
        "scale": {"domain": [2.5, 6.5], "nice": false, "zero": false},
        "axis": {"title": "Methane concentration [nmol L⁻¹]", "titleFontSize": 20, "titleY": 197, "values": [2.5, 3, 3.5, 4, 4.5, 5, 5.5, 6, 6.5], "format": "~g", "grid": true, "ticks": false, "labelPadding": 14, "labelFlush": false, "titlePadding": 21}},
      "shape": {"field": "s", "type": "nominal", "title": null,
        "scale": {"domain": ["HS-47", "HS-38", "high resolution survey", "all underway measurements", "HS-26"], "range": ["circle", "diamond", "square", "circle", "triangle-down"]}},
      "size": {"field": "s", "type": "nominal", "title": null,
        "scale": {"type": "ordinal", "domain": ["HS-47", "HS-38", "high resolution survey", "all underway measurements", "HS-26"], "range": [64, 36, 36, 11, 64]}},
      "fill": {"field": "s", "type": "nominal", "title": null,
        "scale": {"domain": ["HS-47", "HS-38", "high resolution survey", "all underway measurements", "HS-26"], "range": ["#222", "#222", "#ffffff", "#222", "#222"]}},
      "stroke": {"field": "s", "type": "nominal", "title": null,
        "scale": {"domain": ["HS-47", "HS-38", "high resolution survey", "all underway measurements", "HS-26"], "range": ["#222", "#222", "#222", "#222", "#222"]}}
    }
  },
  {
    "mark": {"type": "point", "opacity": 0},
    "encoding": {
      "x": {"field": "t", "type": "quantitative",
        "scale": {"domain": [12, 18], "reverse": true, "nice": false, "zero": false},
        "axis": {"orient": "top", "title": null, "values": [12, 12.2, 12.4, 12.6, 12.8, 13, 13.2, 13.4, 13.6, 13.8, 14, 14.2, 14.4, 14.6, 14.8, 15, 15.2, 15.4, 15.6, 15.8, 16, 16.2, 16.4, 16.6, 16.8, 17, 17.2, 17.4, 17.6, 17.8, 18], "grid": false, "labels": false, "ticks": true, "tickSize": -5, "tickColor": "#222", "tickWidth": 1}}
    }
  },
  {
    "mark": {"type": "point", "opacity": 0},
    "encoding": {
      "x": {"field": "t", "type": "quantitative",
        "scale": {"domain": [12, 18], "reverse": true, "nice": false, "zero": false},
        "axis": {"orient": "bottom", "title": null, "values": [12, 12.2, 12.4, 12.6, 12.8, 13, 13.2, 13.4, 13.6, 13.8, 14, 14.2, 14.4, 14.6, 14.8, 15, 15.2, 15.4, 15.6, 15.8, 16, 16.2, 16.4, 16.6, 16.8, 17, 17.2, 17.4, 17.6, 17.8, 18], "grid": false, "labels": false, "ticks": true, "tickSize": -5, "tickColor": "#222", "tickWidth": 1}}
    }
  }
],
"resolve": {"axis": {"x": "independent"}}
}
